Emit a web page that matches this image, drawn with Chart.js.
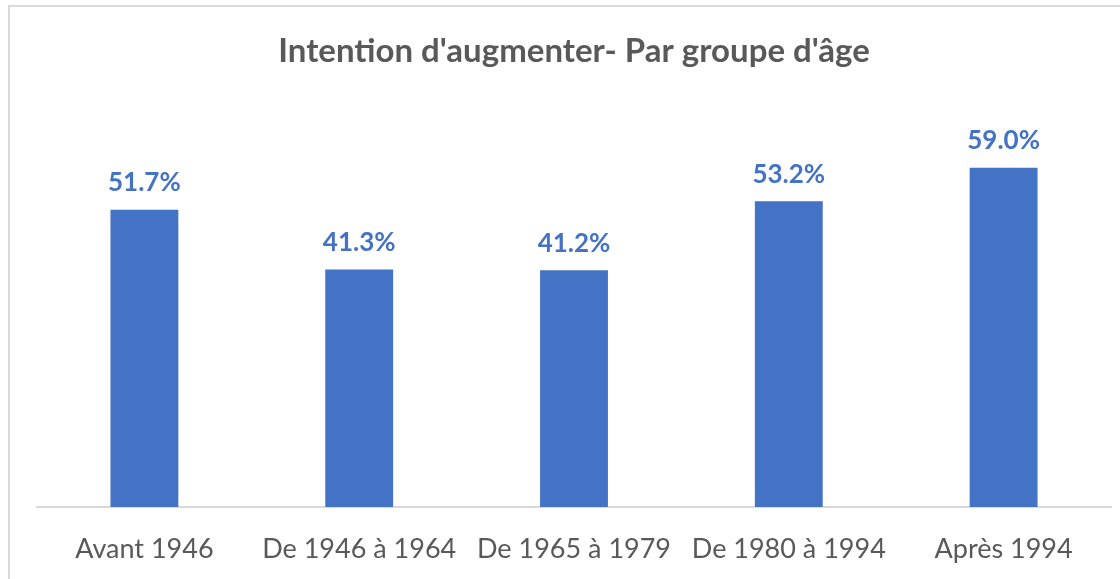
<!DOCTYPE html>
<html>
<head>
<meta charset="utf-8">
<script src="https://cdn.jsdelivr.net/npm/chart.js@4/dist/chart.umd.min.js"></script>
<style>
  html, body { margin: 0; padding: 0; background: #fff; }
  #wrap { width: 1120px; height: 579px; position: relative; }
</style>
</head>
<body>
<div id="wrap"><canvas id="chart"></canvas></div>
<script>
var categories = ["Avant 1946", "De 1946 à 1964", "De 1965 à 1979", "De 1980 à 1994", "Après 1994"];
var values = [51.7, 41.3, 41.2, 53.2, 59.0];
var valueLabels = ["51.7%", "41.3%", "41.2%", "53.2%", "59.0%"];

var blue = "#4472C4";
var grey = "#595959";
var fontFamily = "Lato, 'Liberation Sans', sans-serif";

// light frame around the chart, like the Excel chart area
var framePlugin = {
  id: "frame",
  beforeDraw: function (chart) {
    var ctx = chart.ctx;
    ctx.save();
    ctx.fillStyle = "#fff";
    ctx.fillRect(0, 0, chart.width, chart.height);
    ctx.strokeStyle = "#d9d9d9";
    ctx.lineWidth = 2;
    ctx.strokeRect(9, 6, chart.width + 20, chart.height + 20);
    ctx.restore();
  }
};

// value labels above the bars
var valuePlugin = {
  id: "values",
  afterDatasetsDraw: function (chart) {
    var ctx = chart.ctx;
    var meta = chart.getDatasetMeta(0);
    ctx.save();
    ctx.fillStyle = blue;
    ctx.font = "bold 26px " + fontFamily;
    ctx.textAlign = "center";
    ctx.textBaseline = "middle";
    meta.data.forEach(function (bar, i) {
      ctx.fillText(valueLabels[i], bar.x, bar.y - 27);
    });
    ctx.restore();
  }
};

new Chart(document.getElementById("chart"), {
  type: "bar",
  data: {
    labels: categories,
    datasets: [{
      data: values,
      backgroundColor: blue,
      categoryPercentage: 1,
      barPercentage: 0.316
    }]
  },
  options: {
    responsive: true,
    maintainAspectRatio: false,
    animation: false,
    layout: { padding: { left: 37, right: 9, top: 0, bottom: 0 } },
    plugins: {
      legend: { display: false },
      tooltip: { enabled: false },
      title: {
        display: true,
        text: "Intention d'augmenter- Par groupe d'âge",
        color: grey,
        font: { family: fontFamily, size: 33, weight: "bold" },
        padding: { top: 32, bottom: 33 }
      }
    },
    scales: {
      x: {
        grid: { display: false, drawTicks: false },
        border: { display: true, color: "#d9d9d9", width: 2 },
        ticks: {
          color: grey,
          font: { family: fontFamily, size: 27 },
          padding: 26,
          maxRotation: 0,
          autoSkip: false
        },
        afterFit: function (scale) { scale.height = 72; }
      },
      y: {
        display: false,
        min: 0,
        max: 70
      }
    }
  },
  plugins: [framePlugin, valuePlugin]
});
</script>
</body>
</html>
